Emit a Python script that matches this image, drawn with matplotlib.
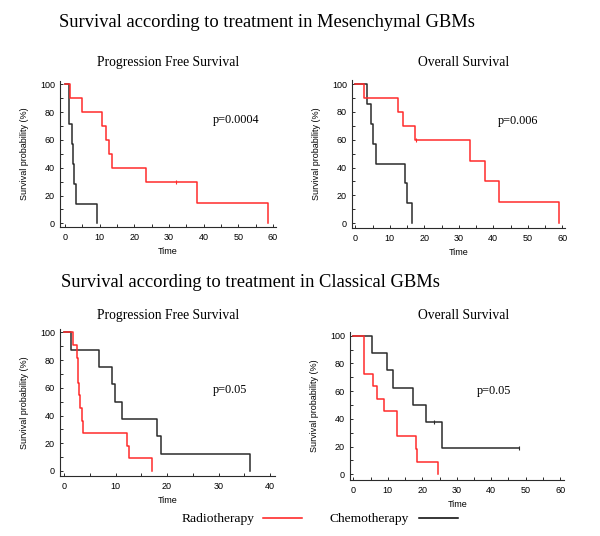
import matplotlib
matplotlib.use("Agg")
import matplotlib.pyplot as plt
from matplotlib.lines import Line2D
from matplotlib.ticker import MultipleLocator

# Kaplan-Meier step data (time, survival % after each step)
# Mesenchymal - progression free survival
mes_pfs_radio_t = [0, 1.4, 4.8, 10.6, 11.85, 12.8, 13.5, 23.4, 38.0, 58.6]
mes_pfs_radio_s = [100, 90, 80, 70, 60, 50, 40, 30, 15, 0]
mes_pfs_chemo_t = [0, 1.25, 1.9, 2.2, 2.6, 3.2, 9.2]
mes_pfs_chemo_s = [100, 71.4, 57.1, 42.9, 28.6, 14.3, 0]
# Mesenchymal - overall survival
mes_os_radio_t = [0, 2.4, 12.5, 13.7, 17.2, 33.3, 37.6, 41.7, 59.0]
mes_os_radio_s = [100, 90, 80, 70, 60, 45, 30, 15, 0]
mes_os_chemo_t = [0, 3.4, 4.5, 5.0, 6.1, 14.5, 14.9, 16.4]
mes_os_chemo_s = [100, 85.7, 71.4, 57.1, 42.9, 28.6, 14.3, 0]
# Classical - progression free survival
cla_pfs_radio_t = [0, 1.7, 2.5, 2.65, 2.95, 3.2, 3.5, 3.75, 12.2, 12.7, 17.0]
cla_pfs_radio_s = [100, 90.9, 81.8, 63.6, 54.5, 45.5, 36.4, 27.3, 18.2, 9.1, 0]
cla_pfs_chemo_t = [0, 1.36, 6.8, 9.4, 9.9, 11.3, 18.0, 18.8, 36.2]
cla_pfs_chemo_s = [100, 87.5, 75, 62.5, 50, 37.5, 25, 12.5, 0]
# Classical - overall survival
cla_os_radio_t = [0, 3.2, 5.8, 6.8, 8.9, 12.6, 18.2, 18.6, 24.5]
cla_os_radio_s = [100, 72.7, 63.6, 54.5, 45.5, 27.3, 18.2, 9.1, 0]
cla_os_chemo_t = [0, 5.5, 9.7, 11.4, 17.2, 21.0, 25.6, 48.2]
cla_os_chemo_s = [100, 87.5, 75, 62.5, 50, 37.5, 18.75, 18.75]

# censored observations (small ticks)
censor_radio = {"mes_pfs": ([32], [30]), "mes_os": ([17.5], [60])}
censor_chemo = {"cla_os": ([23.3, 48.2], [37.5, 18.75])}

p_values = ["p=0.0004", "p=0.006", "p=0.05", "p=0.05"]
subtitles = ["Progression Free Survival", "Overall Survival",
             "Progression Free Survival", "Overall Survival"]
titles = ["Survival according to treatment in Mesenchymal GBMs",
          "Survival according to treatment in Classical GBMs"]
legend_labels = ["Radiotherapy", "Chemotherapy"]

RED = "#ff2b2b"
BLACK = "#2b2b2b"
SERIF = "Liberation Serif"
SANS = "Liberation Sans"

W, H = 600, 536
fig = plt.figure(figsize=(W / 100, H / 100), dpi=100)


def px_axes(left, top, right, bottom):
    return fig.add_axes([left / W, 1 - bottom / H, (right - left) / W, (bottom - top) / H])


def fx(x):
    return x / W


def fy(y):
    return 1 - y / H


# panel: key, pixel box, xlim, ylim, xmax tick
panels = [
    ("mes_pfs", (60, 81, 276, 227), (-1.44, 60.9), (-2.6, 102.4), 60,
     mes_pfs_radio_t, mes_pfs_radio_s, mes_pfs_chemo_t, mes_pfs_chemo_s),
    ("mes_os", (352, 80, 565, 228), (-0.96, 60.8), (-3.4, 102.9), 60,
     mes_os_radio_t, mes_os_radio_s, mes_os_chemo_t, mes_os_chemo_s),
    ("cla_pfs", (60, 329, 275, 475.7), (-0.78, 40.97), (-3.4, 102.4), 40,
     cla_pfs_radio_t, cla_pfs_radio_s, cla_pfs_chemo_t, cla_pfs_chemo_s),
    ("cla_os", (350, 331.7, 564.3, 480), (-0.97, 61.2), (-4.1, 102.9), 60,
     cla_os_radio_t, cla_os_radio_s, cla_os_chemo_t, cla_os_chemo_s),
]

for key, box, xl, yl, xmax, rt, rs, ct, cs in panels:
    ax = px_axes(*box)
    ax.step(ct, cs, where="post", color=BLACK, lw=1.1, zorder=2)
    ax.step(rt, rs, where="post", color=RED, lw=1.1, zorder=3)
    if key in censor_radio:
        ax.plot(*censor_radio[key], ls="none", marker="|", ms=3, color=RED, mew=0.8)
    if key in censor_chemo:
        ax.plot(*censor_chemo[key], ls="none", marker="|", ms=3, color=BLACK, mew=0.8)
    ax.set_xlim(*xl)
    ax.set_ylim(*yl)
    ax.set_xticks(range(0, xmax + 1, 10))
    ax.set_yticks(range(0, 101, 20))
    ax.xaxis.set_minor_locator(MultipleLocator(5))
    ax.yaxis.set_minor_locator(MultipleLocator(10))
    ax.tick_params(which="both", direction="in", width=0.7, color=BLACK)
    ax.tick_params(which="major", length=2.5)
    ax.tick_params(which="minor", length=2)
    ax.tick_params(axis="y", pad=3.6)
    ax.tick_params(axis="x", pad=4.2)
    for lab in ax.get_xticklabels() + ax.get_yticklabels():
        lab.set_fontfamily(SANS)
        lab.set_fontsize(6.5)
    for side in ("top", "right"):
        ax.spines[side].set_visible(False)
    for side in ("left", "bottom"):
        ax.spines[side].set_linewidth(0.8)
        ax.spines[side].set_color(BLACK)
    ax.set_xlabel("Time", fontfamily=SANS, fontsize=6.5, labelpad=4)
    ax.set_ylabel("Survival probability (%)", fontfamily=SANS, fontsize=6.5, labelpad=8)
    ax.patch.set_alpha(0)

# section titles
fig.text(fx(59), fy(27), titles[0], fontfamily=SERIF, fontsize=13.3, ha="left", va="baseline")
fig.text(fx(61), fy(287), titles[1], fontfamily=SERIF, fontsize=13.3, ha="left", va="baseline")

# panel subtitles
sub_pos = [(168, 65.7), (463.5, 65.7), (168, 319), (463.5, 319)]
for (x, y), s in zip(sub_pos, subtitles):
    fig.text(fx(x), fy(y), s, fontfamily=SERIF, fontsize=9.8, ha="center", va="baseline")

# p-values
p_pos = [(213, 123.3), (498, 124), (213, 393), (477, 394)]
for (x, y), s in zip(p_pos, p_values):
    fig.text(fx(x), fy(y), s, fontfamily=SERIF, fontsize=8.8, ha="left", va="baseline")

# legend at the bottom
fig.text(fx(182), fy(521.7), legend_labels[0], fontfamily=SERIF, fontsize=9.7, ha="left", va="baseline")
fig.text(fx(330), fy(521.7), legend_labels[1], fontfamily=SERIF, fontsize=9.7, ha="left", va="baseline")
fig.add_artist(Line2D([fx(263), fx(302)], [fy(518), fy(518)], color="#ff1a1a", lw=1.1))
fig.add_artist(Line2D([fx(419), fx(458)], [fy(518), fy(518)], color="black", lw=1.1))

fig.savefig("out.png", dpi=100, facecolor="white")
